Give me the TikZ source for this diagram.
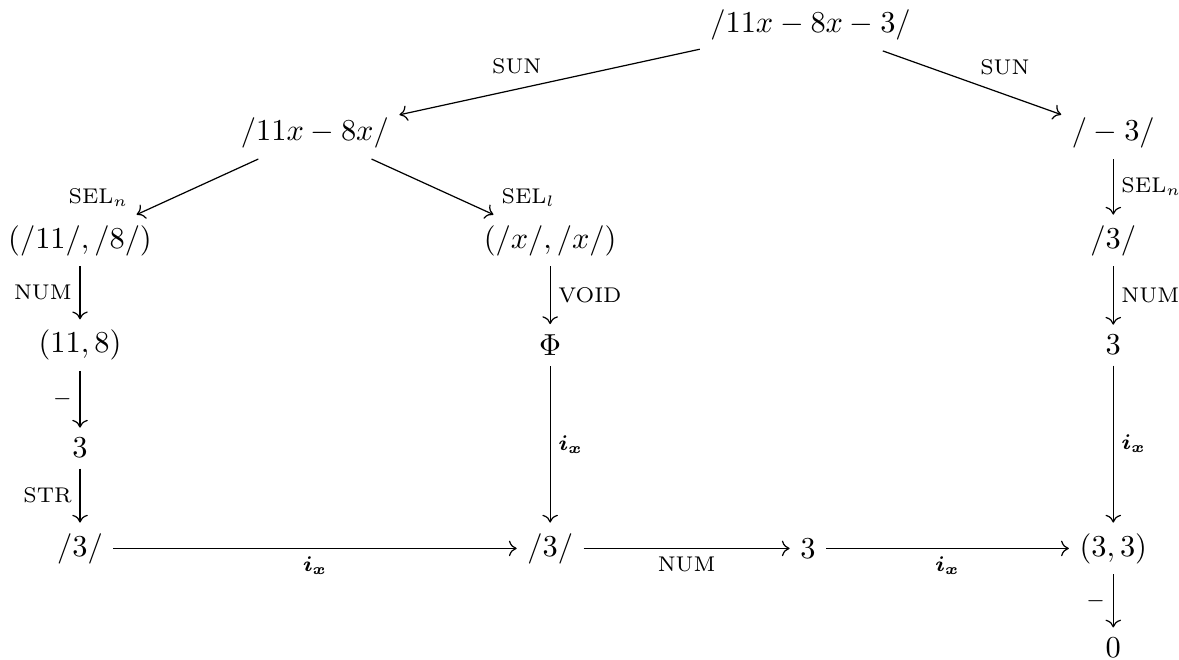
\documentclass[tikz,border=0pt]{standalone}
\usepackage{amsmath}
\usepackage{amssymb}
\usepackage{tikz}
\usetikzlibrary{arrows.meta,positioning}

\begin{document}
\begin{tikzpicture}[
    on grid,
    term/.style={inner sep=3.3pt},
    lbl/.style={font=\scriptsize, inner sep=2.5pt},
    arrow/.style={-{To[length=0.9mm,width=1.8mm]}, line width=0.4pt}
  ]
    \useasboundingbox (0,0) rectangle (13.63,7.62);
    \node[term] (expr) at (9.37,7.33) {$/11x-8x-3/$};
    \node[term, below left=1.25cm and 5.73cm of expr] (lin) {$/11x-8x/$};
    \node[term, below right=1.25cm and 3.5cm of expr] (cst) {$/-3/$};
    \node[term, below left=1.24cm and 2.715cm of lin] (nums) {$(/11/,/8/)$};
    \node[term, below right=1.24cm and 2.72cm of lin] (vars) {$(/x/,/x/)$};
    \node[term, below=1.24cm of cst] (cstsel) {$/3/$};
    \node[term, below=1.21cm of nums] (numpair) {$(11,8)$};
    \node[term, below=1.21cm of vars] (void) {$\Phi$};
    \node[term, below=1.21cm of cstsel] (cstnum) {$3$};
    \node[term, below=1.19cm of numpair] (diff) {$3$};
    \node[term, below=1.16cm of diff] (diffstr) {$/3/$};
    \node[term, below=2.35cm of void] (mid) {$/3/$};
    \node[term, right=2.98cm of mid] (midnum) {$3$};
    \node[term, below=2.35cm of cstnum] (final) {$(3,3)$};
    \node[term, below=1.15cm of final] (zero) {$0$};
    % splitting
    \draw[arrow] (expr) -- node[lbl, above left] {SUN} (lin);
    \draw[arrow] (expr) -- node[lbl, above right] {SUN} (cst);
    \draw[arrow] (lin) -- node[lbl, pos=1, anchor=south east] {SEL$_n$} (nums);
    \draw[arrow] (lin) -- node[lbl, pos=1, anchor=south west] {SEL$_l$} (vars);
    \draw[arrow] (cst) -- node[lbl, right] {SEL$_n$} (cstsel);
    % columns
    \draw[arrow] (nums) -- node[lbl, left] {NUM} (numpair);
    \draw[arrow] (numpair) -- node[lbl, left] {$-$} (diff);
    \draw[arrow] (diff) -- node[lbl, left] {STR} (diffstr);
    \draw[arrow] (vars) -- node[lbl, right] {VOID} (void);
    \draw[arrow] (void) -- node[lbl, right] {$\boldsymbol{i_x}$} (mid);
    \draw[arrow] (cstsel) -- node[lbl, right] {NUM} (cstnum);
    \draw[arrow] (cstnum) -- node[lbl, right] {$\boldsymbol{i_x}$} (final);
    \draw[arrow] (final) -- node[lbl, left] {$-$} (zero);
    % bottom row
    \draw[arrow] (diffstr) -- node[lbl, below] {$\boldsymbol{i_x}$} (mid);
    \draw[arrow] (mid) -- node[lbl, below] {NUM} (midnum);
    \draw[arrow] (midnum) -- node[lbl, below] {$\boldsymbol{i_x}$} (final);
  \end{tikzpicture}
\end{document}
